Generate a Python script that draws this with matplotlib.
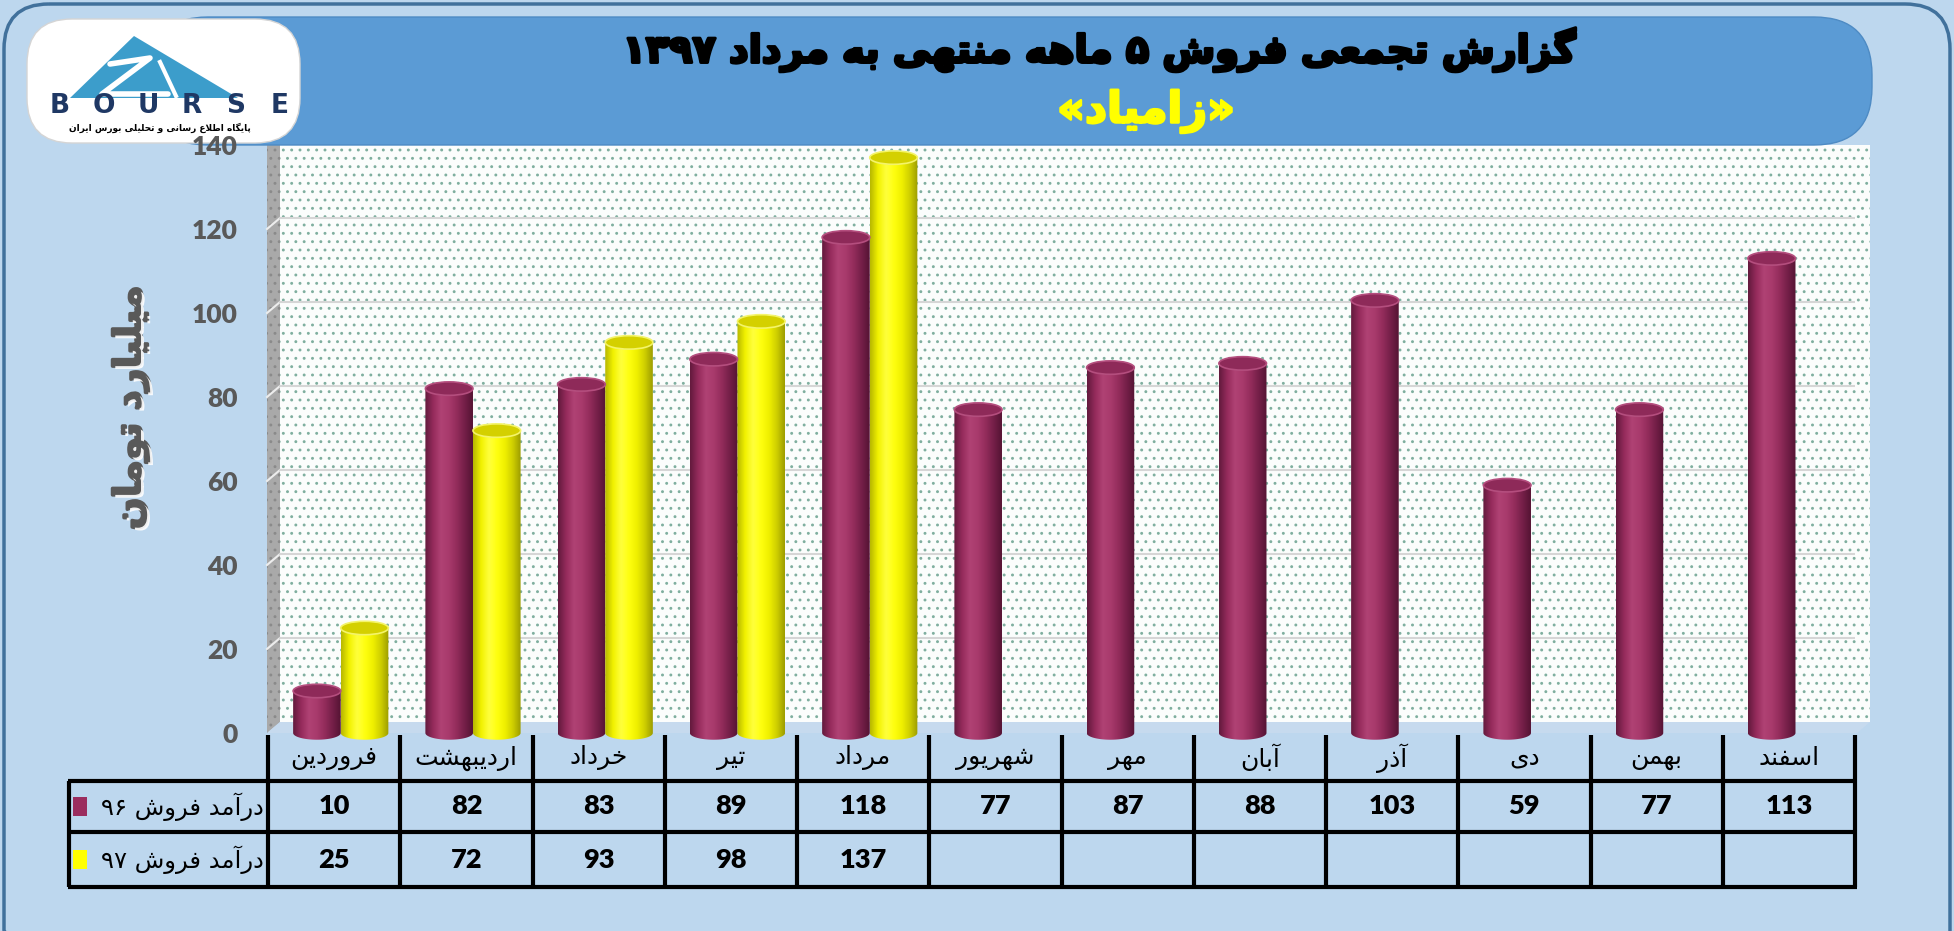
import re
import numpy as np
import matplotlib
matplotlib.use('Agg')
import matplotlib.pyplot as plt
from matplotlib.patches import FancyBboxPatch, Rectangle, Polygon, Ellipse
from matplotlib.path import Path
from matplotlib.colors import LinearSegmentedColormap
import matplotlib.transforms as mtransforms
import matplotlib.patheffects as pe

plt.rcParams['font.family'] = ['Lato', 'DejaVu Sans']
plt.rcParams['hatch.linewidth'] = 0.9

# ---- data ----
title = 'گزارش تجمعی فروش ۵ ماهه منتهی به مرداد ۱۳۹۷'
subtitle = '«زامیاد»'
y_label = 'میلیارد تومان'
months = ['فروردین', 'اردیبهشت', 'خرداد', 'تیر', 'مرداد', 'شهریور',
          'مهر', 'آبان', 'آذر', 'دی', 'بهمن', 'اسفند']
sales_96 = [10, 82, 83, 89, 118, 77, 87, 88, 103, 59, 77, 113]
sales_97 = [25, 72, 93, 98, 137]
row_96 = 'درآمد فروش ۹۶'
row_97 = 'درآمد فروش ۹۷'
logo_text = 'پایگاه اطلاع رسانی و تحلیلی بورس ایران'


# ---- tiny persian shaper (matplotlib has no bidi / shaping) ----
# isolated, final, initial, medial
FORMS = {
    'ا': ('\uFE8D', '\uFE8E', None, None),
    'آ': ('\uFE81', '\uFE82', None, None),
    'ب': ('\uFE8F', '\uFE90', '\uFE91', '\uFE92'),
    'پ': ('\uFB56', '\uFB57', '\uFB58', '\uFB59'),
    'ت': ('\uFE95', '\uFE96', '\uFE97', '\uFE98'),
    'ج': ('\uFE9D', '\uFE9E', '\uFE9F', '\uFEA0'),
    'ح': ('\uFEA1', '\uFEA2', '\uFEA3', '\uFEA4'),
    'خ': ('\uFEA5', '\uFEA6', '\uFEA7', '\uFEA8'),
    'د': ('\uFEA9', '\uFEAA', None, None),
    'ذ': ('\uFEAB', '\uFEAC', None, None),
    'ر': ('\uFEAD', '\uFEAE', None, None),
    'ز': ('\uFEAF', '\uFEB0', None, None),
    'س': ('\uFEB1', '\uFEB2', '\uFEB3', '\uFEB4'),
    'ش': ('\uFEB5', '\uFEB6', '\uFEB7', '\uFEB8'),
    'ط': ('\uFEC1', '\uFEC2', '\uFEC3', '\uFEC4'),
    'ع': ('\uFEC9', '\uFECA', '\uFECB', '\uFECC'),
    'ف': ('\uFED1', '\uFED2', '\uFED3', '\uFED4'),
    'گ': ('\uFB92', '\uFB93', '\uFB94', '\uFB95'),
    'ل': ('\uFEDD', '\uFEDE', '\uFEDF', '\uFEE0'),
    'م': ('\uFEE1', '\uFEE2', '\uFEE3', '\uFEE4'),
    'ن': ('\uFEE5', '\uFEE6', '\uFEE7', '\uFEE8'),
    'ه': ('\uFEE9', '\uFEEA', '\uFEEB', '\uFEEC'),
    'و': ('\uFEED', '\uFEEE', None, None),
    'ی': ('\uFBFC', '\uFBFD', '\uFBFE', '\uFBFF'),
}
LAM_ALEF = {'ا': ('\uFEFB', '\uFEFC'), 'آ': ('\uFEF5', '\uFEF6')}


def dual(c):
    return c in FORMS and FORMS[c][2] is not None


def shape(s):
    out = []
    i = 0
    while i < len(s):
        c = s[i]
        prev = s[i - 1] if i > 0 else ''
        nxt = s[i + 1] if i + 1 < len(s) else ''
        jp = dual(prev)
        if c == 'ل' and nxt in LAM_ALEF:
            out.append(LAM_ALEF[nxt][1 if jp else 0])
            i += 2
            continue
        if c in FORMS:
            iso, fin, ini, med = FORMS[c]
            jn = dual(c) and nxt in FORMS
            if jp and jn:
                out.append(med)
            elif jp:
                out.append(fin)
            elif jn:
                out.append(ini)
            else:
                out.append(iso)
        else:
            out.append(c)
        i += 1
    return ''.join(out)


def fa(s):
    tokens = re.findall(r'[0-9\u06F0-\u06F9]+|[^0-9\u06F0-\u06F9]', shape(s))
    mirror = {'«': '»', '»': '«', '(': ')', ')': '('}
    return ''.join(mirror.get(t, t) for t in reversed(tokens))


FA = 'DejaVu Sans'

W, H = 1954, 931
fig = plt.figure(figsize=(W / 100, H / 100), dpi=100, facecolor='#BDD7EE')

# pixel overlay for decoration (y downwards)
bg = fig.add_axes([0, 0, 1, 1])
bg.set_xlim(0, W)
bg.set_ylim(H, 0)
bg.axis('off')

bg.add_patch(FancyBboxPatch((4, 4), W - 8, H + 40, boxstyle='round,pad=0,rounding_size=45',
                            fc='none', ec='#41719C', lw=2.5, clip_on=False))

# back wall, side wall, floor
bg.add_patch(Rectangle((280, 145), 1590, 577, fc='#FBFDFC', ec='#7FAF9F', lw=0, hatch='..'))
bg.add_patch(Polygon([(267, 733), (280, 722), (280, 145), (267, 145)],
                     fc='#A9A9A9', ec='#8A8A8A', lw=0, hatch='..'))
bg.add_patch(Polygon([(267, 733), (280, 722), (1870, 722), (1857, 733)], fc='#C6DAEE', lw=0))

# title banner
bg.add_patch(FancyBboxPatch((150, 17), 1722, 128, boxstyle='round,pad=0,rounding_size=58',
                            fc='#5B9BD5', ec='#4E8BC4', lw=1))
bg.text(1100, 50, fa(title), fontsize=27.5, fontweight='bold', family=FA,
        ha='center', va='center', color='black',
        path_effects=[pe.withStroke(linewidth=2.2, foreground='black')])
bg.text(1146, 111, fa(subtitle), fontsize=31, fontweight='bold', family=FA,
        ha='center', va='center', color='#FFFF00',
        path_effects=[pe.withStroke(linewidth=1.8, foreground='#FFFF00')])

# logo
bg.add_patch(FancyBboxPatch((27, 19), 273, 124, boxstyle='round,pad=0,rounding_size=45',
                            fc='white', ec='#D5D5D5', lw=1))
bg.add_patch(Polygon([(134, 36), (70, 98), (238, 98)], fc='#3C9DCB', lw=0))
bg.plot([110, 150, 102, 168], [64, 58, 94, 94], color='white', lw=4, solid_capstyle='round')
bg.plot([160, 176], [62, 96], color='white', lw=3)
for k, ch in enumerate('BOURSE'):
    bg.text(60 + k * 44, 106, ch, fontsize=19, fontweight='bold', family=FA,
            color='#1F3864', ha='center', va='center')
bg.text(160, 128, fa(logo_text), fontsize=6.5, fontweight='bold', family=FA,
        ha='center', va='center', color='black')

# y label
bg.text(131, 408, fa(y_label), rotation=90, fontsize=27, fontweight='bold', family=FA,
        ha='center', va='center', color='#595959',
        path_effects=[pe.withStroke(linewidth=2.5, foreground='#595959'),
                      pe.SimplePatchShadow(offset=(2, -2), shadow_rgbFace='white', alpha=0.9),
                      pe.Normal()])

# ---- bars ----
ax = fig.add_axes([268 / W, 1 - 745.6 / H, (1855 - 268) / W, (745.6 - 145) / H])
ax.patch.set_alpha(0)
ax.set_autoscale_on(False)
ax.set_xlim(-0.5, len(months) - 0.5)
ax.set_ylim(-3, 140)
for s in ax.spines.values():
    s.set_visible(False)

x = np.arange(len(months))
wid = 0.36
b96 = ax.bar(x - 0.13, sales_96, width=wid, color='none', lw=0)
b97 = ax.bar(x[:len(sales_97)] + 0.23, sales_97, width=wid, color='none', lw=0)

cmap96 = LinearSegmentedColormap.from_list('c96', ['#641A3D', '#952B5C', '#B04274', '#A83A6C',
                                                   '#932C5B', '#741F48', '#561434'])
cmap97 = LinearSegmentedColormap.from_list('c97', ['#B8B800', '#F2F200', '#FFFF3C', '#FFFF10',
                                                   '#F0F000', '#CFCF00', '#9E9E00'])


def cylinder(p, cmap, cap_fc, cap_ec, e=3.2):
    x0, w, h = p.get_x(), p.get_width(), p.get_height()
    cx = x0 + w / 2
    t = np.linspace(np.pi, 2 * np.pi, 40)
    bottom = np.column_stack([cx + w / 2 * np.cos(t), e / 2 * np.sin(t)])
    verts = np.vstack([bottom, [[x0 + w, h], [x0, h], bottom[0]]])
    codes = [Path.MOVETO] + [Path.LINETO] * (len(verts) - 2) + [Path.CLOSEPOLY]
    grad = cmap(np.linspace(0, 1, 80))[None, :, :3]
    im = ax.imshow(grad, extent=(x0, x0 + w, -e / 2, h), aspect='auto',
                   interpolation='bicubic', zorder=2)
    im.set_clip_path(Path(verts, codes), ax.transData)
    ax.add_patch(Ellipse((cx, h), w, e, fc=cap_fc, ec=cap_ec, lw=1.2, zorder=3))


for p in b96:
    cylinder(p, cmap96, '#8E2A59', '#B44E7E')
for p in b97:
    cylinder(p, cmap97, '#D4D000', '#F4F46A')

ax.set_xlim(-0.5, len(months) - 0.5)
ax.set_ylim(-3, 140)
ax.set_aspect('auto')

# gridlines on the back wall and the side wall
ticks = np.arange(0, 141, 20)
back = mtransforms.offset_copy(ax.transData, fig=fig, x=12, y=11, units='dots')
for v in ticks[1:-1]:
    ax.plot([-0.5, len(months) - 0.5], [v, v], transform=back, color='#D6D6D6', lw=1.5, zorder=0.5)
    yd = H - ax.transData.transform((0, v))[1]
    bg.plot([267, 280], [yd, yd - 11], color='#EDEDED', lw=1.5)

ax.set_yticks(ticks)
ax.set_xticks([])
ax.tick_params(axis='y', length=0, pad=22, labelsize=19, labelcolor='#595959')
for lab in ax.get_yticklabels():
    lab.set_fontweight('heavy')

# ---- data table under the chart ----
tt = mtransforms.blended_transform_factory(ax.transData, bg.transData)
x_right = ax.transData.transform((len(months) - 0.5, 0))[0]
y_head, y_r1, y_r2, y_end = 735, 781, 832, 887
lw_t = 3
for i in range(len(months) + 1):
    bg.plot([i - 0.5, i - 0.5], [y_head, y_end], transform=tt, color='black', lw=lw_t,
            solid_capstyle='butt')
bg.plot([69, 69], [y_r1, y_end], color='black', lw=lw_t, solid_capstyle='butt')
for yy in (y_r1, y_r2, y_end):
    bg.plot([67.5, x_right + 1.5], [yy, yy], color='black', lw=lw_t, solid_capstyle='butt')

for i, m in enumerate(months):
    bg.text(i, (y_head + y_r1) / 2, fa(m), transform=tt, family=FA, fontsize=18,
            ha='center', va='center', color='black')
    bg.text(i, (y_r1 + y_r2) / 2, str(sales_96[i]), transform=tt, fontsize=19.5,
            fontweight='heavy', ha='center', va='center', color='black')
for i, v in enumerate(sales_97):
    bg.text(i, (y_r2 + y_end) / 2, str(v), transform=tt, fontsize=19.5,
            fontweight='heavy', ha='center', va='center', color='black')

bg.add_patch(Rectangle((73, (y_r1 + y_r2) / 2 - 10), 14, 19, fc='#9B2D5E', lw=0))
bg.add_patch(Rectangle((73, (y_r2 + y_end) / 2 - 10), 14, 19, fc='#FFFF00', lw=0))
bg.text(264, (y_r1 + y_r2) / 2, fa(row_96), family=FA, fontsize=17.5, ha='right', va='center')
bg.text(264, (y_r2 + y_end) / 2, fa(row_97), family=FA, fontsize=17.5, ha='right', va='center')

fig.savefig('out.png', dpi=100, facecolor=fig.get_facecolor())
